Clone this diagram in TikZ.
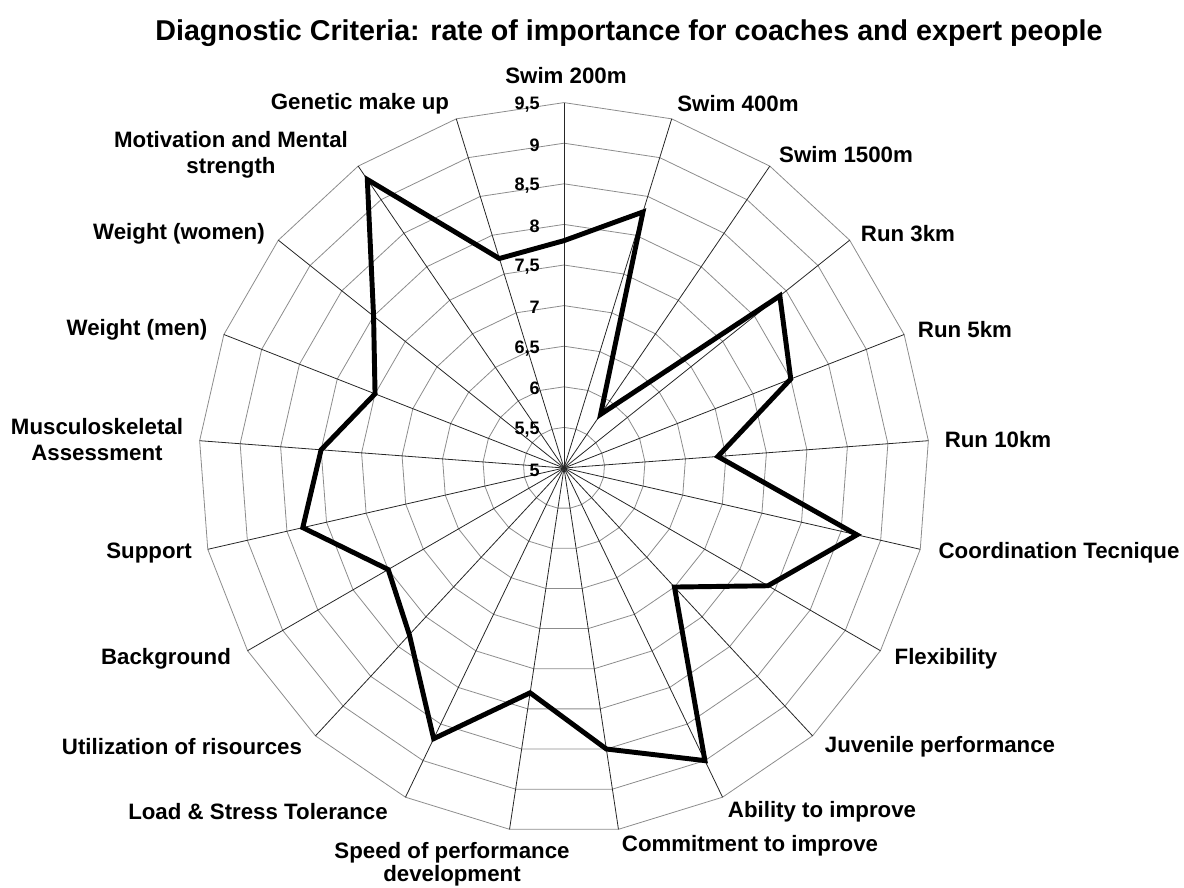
\documentclass[tikz,border=0pt]{standalone}
\usepackage{fontspec}
\setmainfont{Liberation Sans}

\begin{document}
\begin{tikzpicture}[x=0.75pt,y=-0.75pt,
  lab/.style={font=\bfseries\fontsize{16.7}{19.5}\selectfont, align=center},
  tick/.style={font=\bfseries\fontsize{13.5}{14}\selectfont, anchor=east, inner sep=0pt},
  ring/.style={black!45, line width=0.6pt},
  spoke/.style={black!85, line width=0.6pt},
  data/.style={black, line width=3.7pt, line join=miter, miter limit=6}]
\useasboundingbox (0,0) rectangle (1184,888);
\coordinate (O) at (564,468);

% title
\node[font=\bfseries\fontsize{21.5}{24}\selectfont] (title) at (629,33) {Diagnostic Criteria: rate of importance for coaches and expert people};

% rings, 5 to 9,5
\foreach \i in {1,...,9}
  \draw[ring] (564,{468-\i*40.6}) \foreach \k in {1,...,20}{ -- ({564+\i*40.6*sin(\k*360/21)},{468-\i*40.6*cos(\k*360/21)}) } -- cycle;

% spokes
\foreach \k in {0,...,20}
  \draw[spoke] (O) -- ({564+365.4*sin(\k*360/21)},{468-365.4*cos(\k*360/21)});

% scale
\foreach \i/\t in {0/5, 1/{5,5}, 2/6, 3/{6,5}, 4/7, 5/{7,5}, 6/8, 7/{8,5}, 8/9, 9/{9,5}}
  \node[tick] (t\i) at (540,{470-\i*40.6}) {\t};

% data
\draw[data] (564,{468-2.8*81.2}) \foreach \v [count=\k] in {8.3,5.8,8.4,8.0,6.9,8.7,7.9,7.0,9.0,8.5,7.8,8.7,7.8,7.5,8.3,8.0,7.5,8.0,9.3,7.7}{ -- ({564+(\v-5)*81.2*sin(\k*360/21)},{468-(\v-5)*81.2*cos(\k*360/21)}) } -- cycle;

% axis labels
\node[lab] (swima) at (566,76) {Swim 200m};
\node[lab] (swimb) at (738,104) {Swim 400m};
\node[lab] (swimc) at (846,155) {Swim 1500m};
\node[lab] (runa) at (908,234) {Run 3km};
\node[lab] (runb) at (965,330) {Run 5km};
\node[lab] (runc) at (998,440) {Run 10km};
\node[lab] (coord) at (1059,553) {Coordination Tecnique};
\node[lab] (flex) at (946,659) {Flexibility};
\node[lab] (juv) at (940,747) {Juvenile performance};
\node[lab] (abil) at (822,812) {Ability to improve};
\node[lab] (commit) at (750,846) {Commitment to improve};
\node[lab, font=\bfseries\fontsize{16.7}{17}\selectfont] (speed) at (452,864) {Speed of performance\\development};
\node[lab] (load) at (258,812) {Load \& Stress Tolerance};
\node[lab] (util) at (182,747) {Utilization of risources};
\node[lab] (back) at (166,659) {Background};
\node[lab] (supp) at (149,553) {Support};
\node[lab] (musc) at (97,440) {Musculoskeletal\\Assessment};
\node[lab] (wmen) at (137,330) {Weight (men)};
\node[lab] (wwomen) at (179,234) {Weight (women)};
\node[lab] (motiv) at (231,155) {Motivation and Mental\\strength};
\node[lab] (genet) at (360,104) {Genetic make up};
\end{tikzpicture}
\end{document}
